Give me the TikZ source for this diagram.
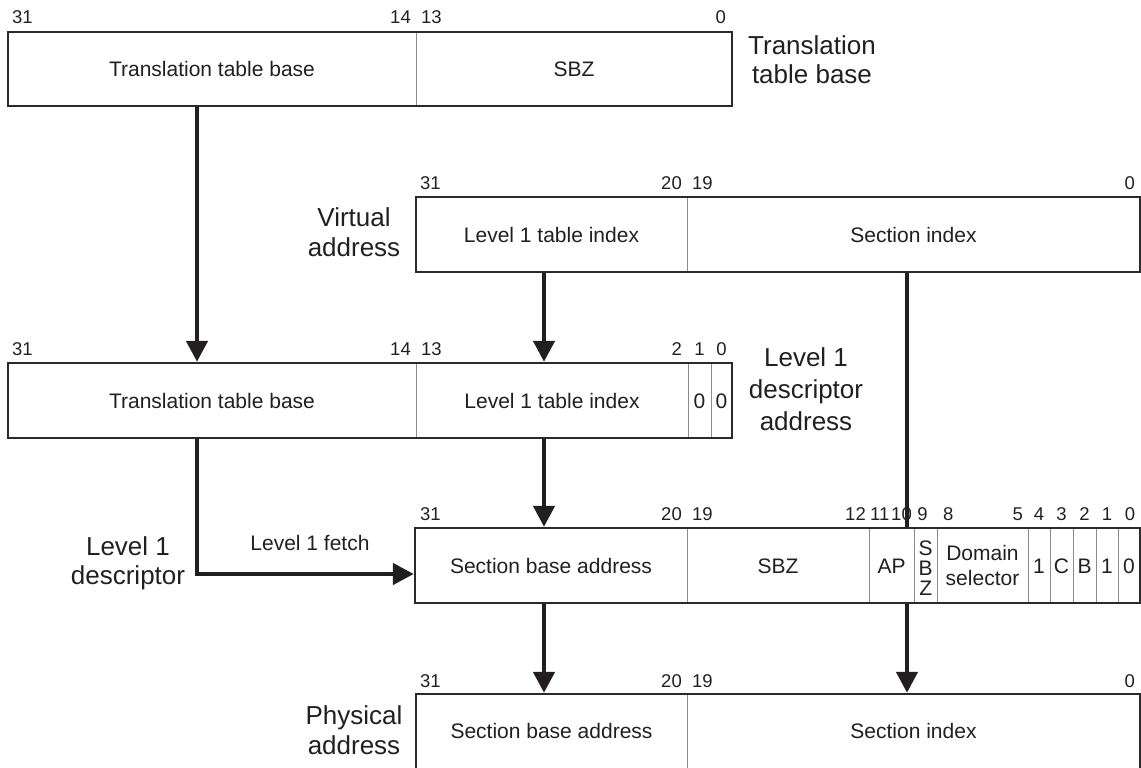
\documentclass[tikz,border=0pt]{standalone}
\usepackage{fontspec}
\setmainfont{Liberation Sans}
\usetikzlibrary{arrows.meta}
\definecolor{ink}{HTML}{231F20}
\definecolor{frame}{HTML}{2A2A2A}
\definecolor{rule}{HTML}{8C8C8C}
\begin{document}
\begin{tikzpicture}[x=1pt,y=-1pt,
  reg/.style={draw=frame, line width=2.4pt, fill=white, inner sep=0pt},
  sep/.style={draw=rule, line width=1pt},
  field/.style={text=ink, inner sep=0pt, font=\fontsize{21}{25}\selectfont,
                text height=15pt, text depth=0pt},
  stack/.style={text=ink, inner sep=0pt, align=center},
  bit/.style={text=ink, inner sep=0pt, font=\fontsize{18.5}{20}\selectfont},
  title/.style={text=ink, inner sep=0pt, align=center},
  flow/.style={draw=ink, line width=4.5pt, -{Triangle[length=21pt,width=21pt]}},
  feed/.style={draw=ink, line width=4.5pt}
]
\useasboundingbox (0,0) rectangle (1141,768);
\clip (0,0) rectangle (1141,768);

% ---------- Translation table base register ----------
\node[reg, minimum width=724pt, minimum height=74pt] (ttbr) at (370,69) {};
\draw[sep] (416,33.2) -- (416,104.8);
\node[field] (ttbr-tbase) at (212,69) {Translation table base};
\node[field] (ttbr-sbz) at (574,69) {SBZ};
\node[bit, anchor=base west] (ttbr-b31) at (12,24) {31};
\node[bit, anchor=base east] (ttbr-b14) at (411,24) {14};
\node[bit, anchor=base west] (ttbr-b13) at (421,24) {13};
\node[bit, anchor=base east] (ttbr-b0) at (726,24) {0};
\node[title, font=\fontsize{26}{29}\selectfont] (ttbr-title) at (812,60) {Translation\\table base};

% ---------- Virtual address ----------
\node[reg, minimum width=724pt, minimum height=75pt] (va) at (778,234.5) {};
\draw[sep] (687,198.2) -- (687,270.8);
\node[field] (va-l1) at (551.5,234.5) {Level 1 table index};
\node[field] (va-si) at (913.5,234.5) {Section index};
\node[bit, anchor=base west] (va-b31) at (420,189) {31};
\node[bit, anchor=base east] (va-b20) at (682,189) {20};
\node[bit, anchor=base west] (va-b19) at (692,189) {19};
\node[bit, anchor=base east] (va-b0) at (1135,189) {0};
\node[title, font=\fontsize{26}{30}\selectfont] (va-title) at (354,232.7) {Virtual\\address};

% ---------- Level 1 descriptor address ----------
\node[reg, minimum width=724pt, minimum height=75pt] (l1da) at (370,400.5) {};
\draw[sep] (416,364.2) -- (416,436.8);
\draw[sep] (688,364.2) -- (688,436.8);
\draw[sep] (711,364.2) -- (711,436.8);
\node[field] (l1da-tbase) at (212,400.5) {Translation table base};
\node[field] (l1da-l1) at (552,400.5) {Level 1 table index};
\node[field] (l1da-z1) at (699.5,400.5) {0};
\node[field] (l1da-z0) at (721.5,400.5) {0};
\node[bit, anchor=base west] (l1da-b31) at (12,355) {31};
\node[bit, anchor=base east] (l1da-b14) at (411,355) {14};
\node[bit, anchor=base west] (l1da-b13) at (421,355) {13};
\node[bit, anchor=base east] (l1da-b2) at (682,355) {2};
\node[bit, anchor=base] (l1da-b1) at (699.5,355) {1};
\node[bit, anchor=base] (l1da-b0) at (721.5,355) {0};
\node[title, font=\fontsize{26}{32}\selectfont] (l1da-title) at (806,389.7) {Level 1\\descriptor\\address};

% ---------- Level 1 descriptor (section) ----------
\node[reg, minimum width=725pt, minimum height=75pt] (desc) at (777.5,565.5) {};
\foreach \xd in {687,869,914,937,1028,1050,1073,1096,1118}
  \draw[sep] (\xd,529.2) -- (\xd,601.8);
\node[field] (desc-sba) at (551,565.5) {Section base address};
\node[field] (desc-sbz) at (778,565.5) {SBZ};
\node[field] (desc-ap) at (891.5,565.5) {AP};
\node[stack, font=\fontsize{21}{20}\selectfont] (desc-sbz9) at (925.7,568) {S\\B\\Z};
\node[stack, font=\fontsize{21}{25}\selectfont] (desc-dom) at (982.5,565.5) {Domain\\selector};
\node[field] (desc-c4) at (1039,565.5) {1};
\node[field] (desc-c3) at (1061.5,565.5) {C};
\node[field] (desc-c2) at (1084.5,565.5) {B};
\node[field] (desc-c1) at (1107,565.5) {1};
\node[field] (desc-c0) at (1129,565.5) {0};
\node[bit, anchor=base west] (desc-b31) at (420,520) {31};
\node[bit, anchor=base east] (desc-b20) at (682,520) {20};
\node[bit, anchor=base west] (desc-b19) at (692,520) {19};
\node[bit, anchor=base east] (desc-b12) at (866,520) {12};
\node[bit, anchor=base west] (desc-b11) at (870,520) {11};
\node[bit, anchor=base east] (desc-b10) at (912,520) {10};
\node[bit, anchor=base] (desc-b9) at (922.5,520) {9};
\node[bit, anchor=base west] (desc-b8) at (943,520) {8};
\node[bit, anchor=base east] (desc-b5) at (1023,520) {5};
\node[bit, anchor=base] (desc-b4) at (1039,520) {4};
\node[bit, anchor=base] (desc-b3) at (1061.5,520) {3};
\node[bit, anchor=base] (desc-b2) at (1084.5,520) {2};
\node[bit, anchor=base] (desc-b1) at (1107,520) {1};
\node[bit, anchor=base] (desc-b0) at (1130,520) {0};
\node[title, font=\fontsize{26}{29}\selectfont] (desc-title) at (128,563.2) {Level 1\\descriptor};
\node[text=ink, inner sep=0pt, font=\fontsize{21}{25}\selectfont, anchor=base] (fetch-lbl) at (310,550) {Level 1 fetch};

% ---------- Physical address ----------
\node[reg, minimum width=724pt, minimum height=106pt] (pa) at (778,747) {};
\draw[sep] (687,695.2) -- (687,800);
\node[field] (pa-sba) at (551.5,731) {Section base address};
\node[field] (pa-si) at (913.5,731) {Section index};
\node[bit, anchor=base west] (pa-b31) at (420,687) {31};
\node[bit, anchor=base east] (pa-b20) at (682,687) {20};
\node[bit, anchor=base west] (pa-b19) at (692,687) {19};
\node[bit, anchor=base east] (pa-b0) at (1135,687) {0};
\node[title, font=\fontsize{26}{31}\selectfont] (pa-title) at (354,730.2) {Physical\\address};

% ---------- data paths ----------
\coordinate (colA) at (197,0);
\coordinate (colB) at (544,0);
\coordinate (colC) at (907,0);
\coordinate (fetchy) at (0,574);

\draw[flow] (ttbr.south -| colA) -- (l1da.north -| colA);
\draw[flow] (va.south -| colB) -- (l1da.north -| colB);
\draw[feed] (va.south -| colC) -- (desc.north -| colC);
\draw[flow] (l1da.south -| colB) -- (desc.north -| colB);
\draw[flow] (l1da.south -| colA) |- (desc.west |- fetchy);
\draw[flow] (desc.south -| colB) -- (pa.north -| colB);
\draw[flow] (desc.south -| colC) -- (pa.north -| colC);
\end{tikzpicture}
\end{document}
